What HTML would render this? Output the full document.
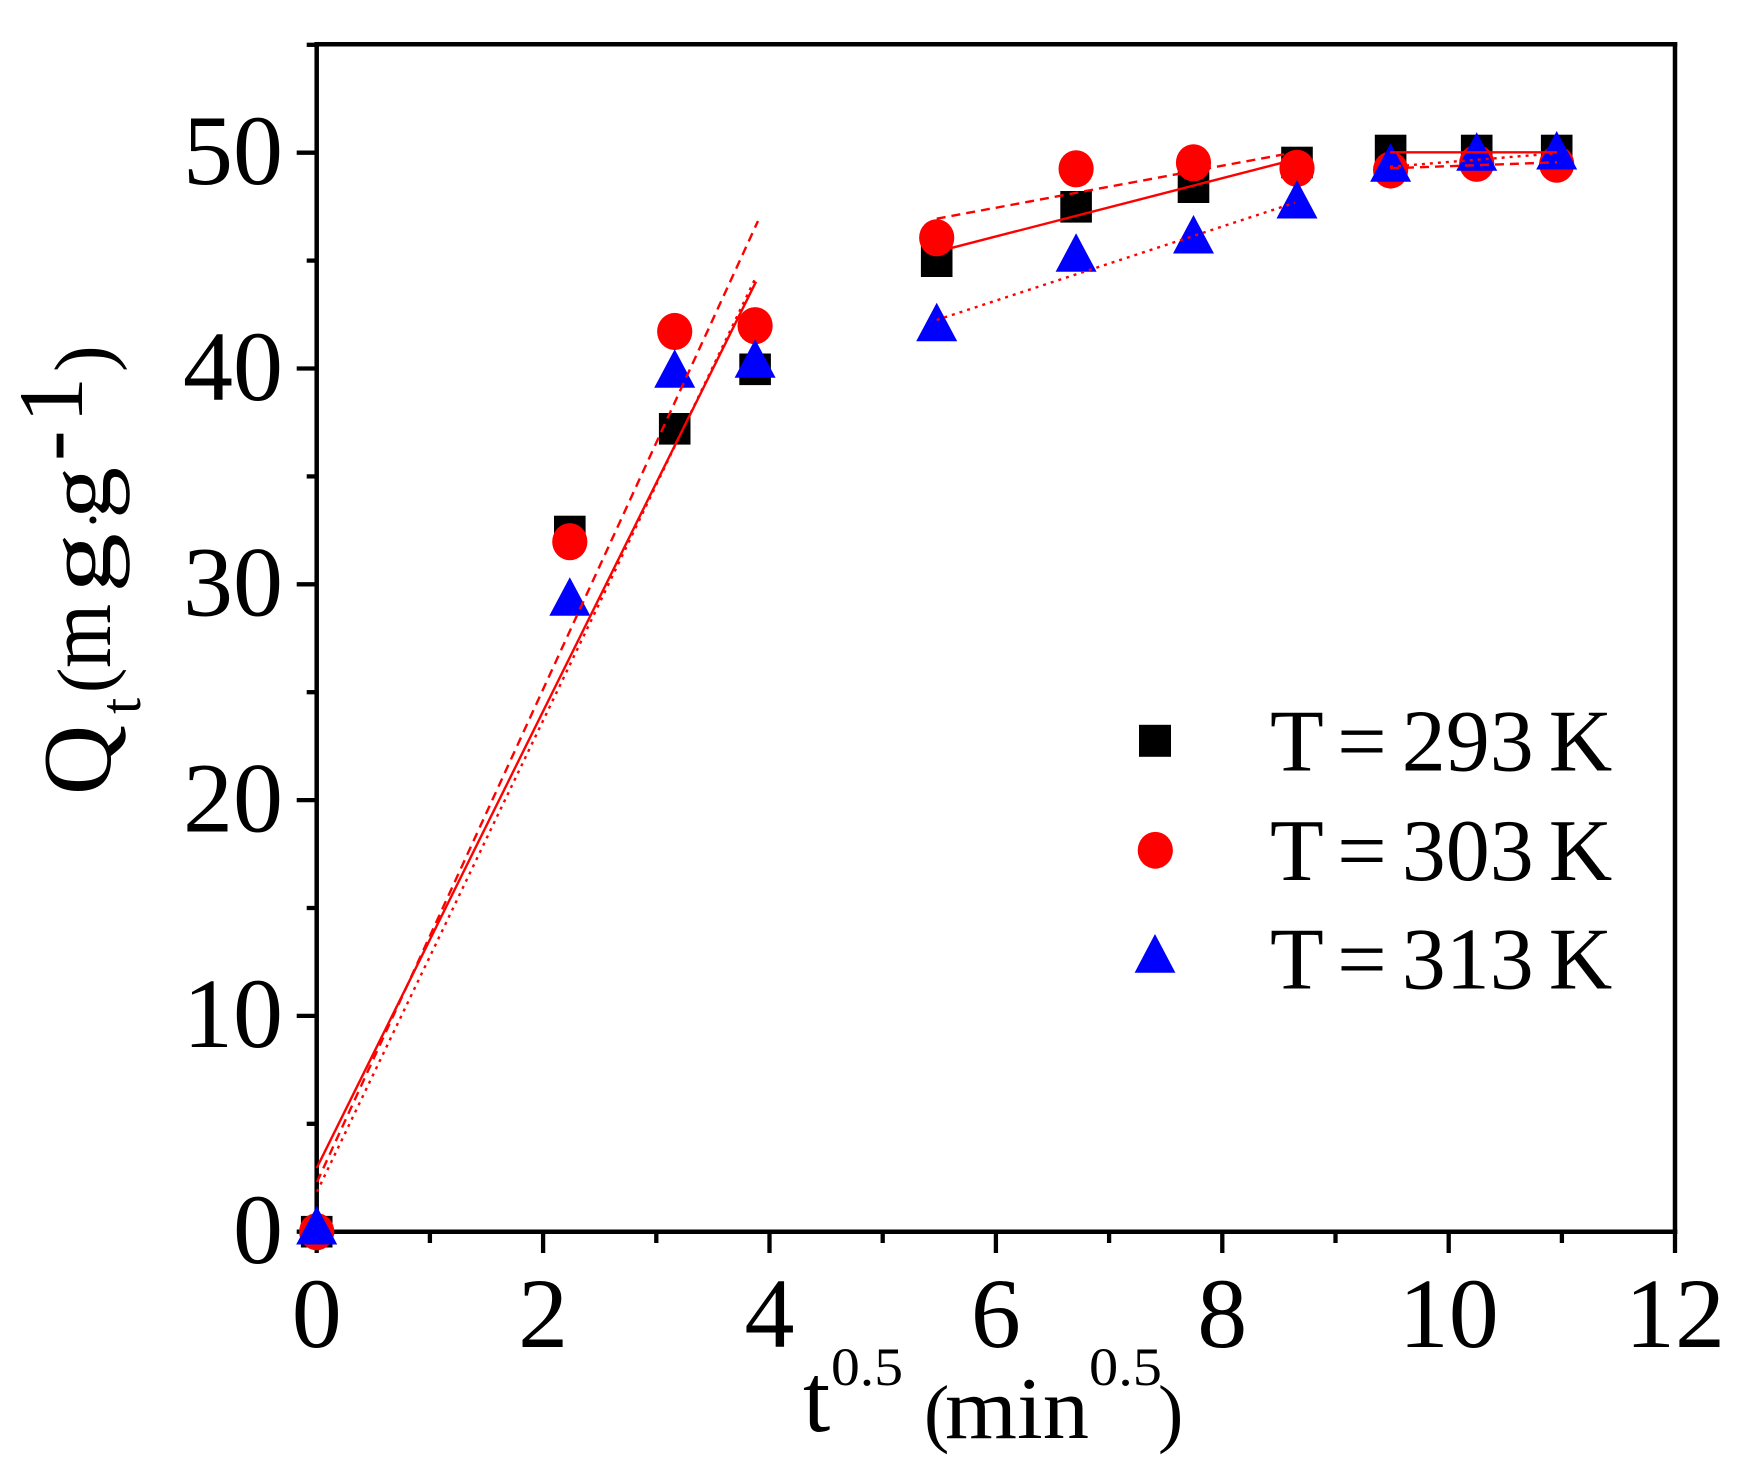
<!DOCTYPE html>
<html>
<head>
<meta charset="utf-8">
<style>
html,body{margin:0;padding:0;background:#fff;}
svg{display:block;}
text{font-family:"Liberation Serif","Times New Roman",serif;fill:#000;}
</style>
</head>
<body>
<svg width="1746" height="1470" viewBox="0 0 1746 1470" xmlns="http://www.w3.org/2000/svg">
<rect x="0" y="0" width="1746" height="1470" fill="#fff"/>

<!-- Axes frame -->
<g stroke="#000" stroke-width="4.5" fill="none" stroke-linecap="square">
  <line x1="316.7" y1="44.3" x2="316.7" y2="1231.7"/>
  <line x1="316.7" y1="1231.7" x2="1675" y2="1231.7"/>
  <line x1="1675" y1="44.3" x2="1675" y2="1231.7"/>
  <line x1="316.7" y1="44.3" x2="1675" y2="44.3"/>
</g>

<!-- Y ticks -->
<g stroke="#000" stroke-width="4.3">
  <line x1="296.7" y1="1231.7" x2="316.7" y2="1231.7"/>
  <line x1="296.7" y1="1015.9" x2="316.7" y2="1015.9"/>
  <line x1="296.7" y1="800.1" x2="316.7" y2="800.1"/>
  <line x1="296.7" y1="584.3" x2="316.7" y2="584.3"/>
  <line x1="296.7" y1="368.5" x2="316.7" y2="368.5"/>
  <line x1="296.7" y1="152.7" x2="316.7" y2="152.7"/>
  <line x1="306.7" y1="1123.8" x2="316.7" y2="1123.8"/>
  <line x1="306.7" y1="908.0" x2="316.7" y2="908.0"/>
  <line x1="306.7" y1="692.2" x2="316.7" y2="692.2"/>
  <line x1="306.7" y1="476.4" x2="316.7" y2="476.4"/>
  <line x1="306.7" y1="260.6" x2="316.7" y2="260.6"/>
  <line x1="306.7" y1="44.8" x2="316.7" y2="44.8"/>
</g>

<!-- X ticks -->
<g stroke="#000" stroke-width="4.3">
  <line x1="316.7" y1="1231.7" x2="316.7" y2="1253"/>
  <line x1="543.1" y1="1231.7" x2="543.1" y2="1253"/>
  <line x1="769.5" y1="1231.7" x2="769.5" y2="1253"/>
  <line x1="995.9" y1="1231.7" x2="995.9" y2="1253"/>
  <line x1="1222.3" y1="1231.7" x2="1222.3" y2="1253"/>
  <line x1="1448.7" y1="1231.7" x2="1448.7" y2="1253"/>
  <line x1="1675" y1="1231.7" x2="1675" y2="1253"/>
  <line x1="429.9" y1="1231.7" x2="429.9" y2="1243"/>
  <line x1="656.3" y1="1231.7" x2="656.3" y2="1243"/>
  <line x1="882.7" y1="1231.7" x2="882.7" y2="1243"/>
  <line x1="1109.1" y1="1231.7" x2="1109.1" y2="1243"/>
  <line x1="1335.5" y1="1231.7" x2="1335.5" y2="1243"/>
  <line x1="1561.9" y1="1231.7" x2="1561.9" y2="1243"/>
</g>

<!-- Y tick labels -->
<g font-size="100" text-anchor="end">
  <text x="283" y="1263">0</text>
  <text x="283" y="1047.2">10</text>
  <text x="283" y="831.4">20</text>
  <text x="283" y="615.6">30</text>
  <text x="283" y="399.8">40</text>
  <text x="283" y="184">50</text>
</g>

<!-- X tick labels -->
<g font-size="100" text-anchor="middle">
  <text x="316.7" y="1347">0</text>
  <text x="543.1" y="1347">2</text>
  <text x="769.5" y="1347">4</text>
  <text x="995.9" y="1347">6</text>
  <text x="1222.3" y="1347">8</text>
  <text x="1448.7" y="1347">10</text>
  <text x="1675" y="1347">12</text>
</g>

<!-- X axis title -->
<text x="803" y="1431" font-size="98">t</text>
<text x="831" y="1385" font-size="54" textLength="72" lengthAdjust="spacingAndGlyphs">0.5</text>
<text x="924" y="1438" font-size="76">(</text>
<text x="945" y="1438" font-size="88" textLength="144" lengthAdjust="spacingAndGlyphs">min</text>
<text x="1089" y="1385" font-size="54" textLength="73" lengthAdjust="spacingAndGlyphs">0.5</text>
<text x="1158" y="1438" font-size="76">)</text>

<!-- Y axis title (rotated) -->
<g transform="translate(110,792) rotate(-90)">
  <text x="-3" y="0" font-size="97">Q</text>
  <text x="78" y="30" font-size="58">t</text>
  <text x="99" y="0" font-size="76">(</text>
  <text x="124" y="0" font-size="92" textLength="64" lengthAdjust="spacingAndGlyphs">m</text>
  <text x="199" y="0" font-size="92" textLength="60" lengthAdjust="spacingAndGlyphs">g</text>
  <text x="262" y="3" font-size="60">·</text>
  <text x="273" y="0" font-size="92" textLength="52" lengthAdjust="spacingAndGlyphs">g</text>
  <text x="331" y="-28" font-size="92">-</text>
  <text x="369" y="-28" font-size="92">1</text>
  <text x="420" y="0" font-size="80">)</text>
</g>

<!-- Squares (293 K) -->
<g fill="#000">
  <rect x="300.9" y="1215.9" width="31.6" height="31.6"/>
  <rect x="554" y="515.7" width="31.6" height="31.6"/>
  <rect x="658.9" y="413" width="31.6" height="31.6"/>
  <rect x="739.3" y="353.5" width="31.6" height="31.6"/>
  <rect x="920.9" y="245.4" width="31.6" height="31.6"/>
  <rect x="1060.3" y="191" width="31.6" height="31.6"/>
  <rect x="1177.7" y="171.4" width="31.6" height="31.6"/>
  <rect x="1281.2" y="146.7" width="31.6" height="31.6"/>
  <rect x="1374.8" y="134.7" width="31.6" height="31.6"/>
  <rect x="1460.9" y="134.7" width="31.6" height="31.6"/>
  <rect x="1540.9" y="134.7" width="31.6" height="31.6"/>
</g>

<!-- Circles (303 K) -->
<g fill="#ff0000">
  <ellipse cx="316.7" cy="1231.7" rx="17.6" ry="18.6"/>
  <ellipse cx="569.8" cy="541.7" rx="17.6" ry="18.6"/>
  <ellipse cx="674.7" cy="331.5" rx="17.6" ry="18.6"/>
  <ellipse cx="755.1" cy="325.7" rx="17.6" ry="18.6"/>
  <ellipse cx="936.7" cy="237.8" rx="17.6" ry="18.6"/>
  <ellipse cx="1076.1" cy="168.8" rx="17.6" ry="18.6"/>
  <ellipse cx="1193.5" cy="162.8" rx="17.6" ry="18.6"/>
  <ellipse cx="1297" cy="168.3" rx="17.6" ry="18.6"/>
  <ellipse cx="1390.6" cy="170" rx="17.6" ry="18.6"/>
  <ellipse cx="1476.7" cy="163.3" rx="17.6" ry="18.6"/>
  <ellipse cx="1556.7" cy="164.2" rx="17.6" ry="18.6"/>
</g>

<!-- Triangles (313 K) -->
<g fill="#0000ff">
  <polygon points="316.7,1206 337.2,1244.5 296.2,1244.5"/>
  <polygon points="569.8,577.3 590.3,615.8 549.3,615.8"/>
  <polygon points="674.7,349.3 695.2,387.8 654.2,387.8"/>
  <polygon points="755.1,339.3 775.6,377.8 734.6,377.8"/>
  <polygon points="936.7,302.7 957.2,341.2 916.2,341.2"/>
  <polygon points="1076.1,233.3 1096.6,271.8 1055.6,271.8"/>
  <polygon points="1193.5,215 1214,253.5 1173,253.5"/>
  <polygon points="1297,180 1317.5,218.5 1276.5,218.5"/>
  <polygon points="1390.6,143.3 1411.1,181.8 1370.1,181.8"/>
  <polygon points="1476.7,132.3 1497.2,170.8 1456.2,170.8"/>
  <polygon points="1556.7,131 1577.2,169.5 1536.2,169.5"/>
</g>

<!-- Fit lines -->
<g stroke="#ff0000" stroke-width="2.4" fill="none">
  <line x1="316.7" y1="1168" x2="756" y2="281.7"/>
  <line x1="950" y1="248.3" x2="1282" y2="162.8"/>
  <line x1="1390" y1="152.3" x2="1557" y2="152.3"/>
  <g stroke-dasharray="9,6">
    <line x1="317" y1="1182" x2="758" y2="221"/>
    <line x1="936.7" y1="218.7" x2="1284" y2="154.3"/>
    <line x1="1390" y1="168.3" x2="1557" y2="162.3"/>
  </g>
  <g stroke-dasharray="3,5">
    <line x1="317" y1="1191.7" x2="755" y2="279"/>
    <line x1="936.7" y1="320" x2="1295" y2="202.7"/>
    <line x1="1390" y1="166.7" x2="1557" y2="153.3"/>
  </g>
</g>

<!-- Legend -->
<rect x="1139" y="724.8" width="32" height="32" fill="#000"/>
<ellipse cx="1155.3" cy="850.3" rx="17.6" ry="18.4" fill="#ff0000"/>
<polygon points="1155,934 1175.4,972.7 1134.6,972.7" fill="#0000ff"/>
<g font-size="88" word-spacing="-7">
  <text x="1270" y="770.7">T = 293 K</text>
  <text x="1270" y="880">T = 303 K</text>
  <text x="1270" y="988.3">T = 313 K</text>
</g>
</svg>
</body>
</html>
